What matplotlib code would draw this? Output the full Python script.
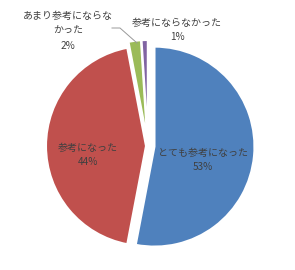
import matplotlib.pyplot as plt
import numpy as np

plt.rcParams['font.family'] = ['Noto Sans CJK JP', 'DejaVu Sans']

categories = ['とても参考になった', '参考になった', 'あまり参考にならなかった', '参考にならなかった']
values = [53, 44, 2, 1]
labels = ['とても参考になった\n53%', '参考になった\n44%', 'あまり参考にならな\nかった\n2%', '参考にならなかった\n1%']
colors = ['#4F81BD', '#C0504D', '#9BBB59', '#8064A2']

W, H = 295, 270
r = 100.0
cx, cy = 148, 124  # pie centre in pixels, measured from bottom-left


def px(x, y_top):
    # pixel position (from top-left) -> data coordinates
    return (x - cx) / r, (H - y_top - cy) / r


fig = plt.figure(figsize=(W / 100, H / 100), dpi=100)
ax = fig.add_axes([0, 0, 1, 1])

wedges, _ = ax.pie(values, colors=colors, startangle=90, counterclock=False,
                   explode=[0.065, 0.02, 0.06, 0.06],
                   wedgeprops=dict(edgecolor='white', linewidth=1.5))

txt = dict(fontsize=7.2, color='#404040', ha='center', va='center', linespacing=1.6)
ax.text(*px(203, 160), labels[0], **txt)
ax.text(*px(88, 155), labels[1], **txt)
ax.text(*px(68, 31), labels[2], **txt)
ax.text(*px(177, 30), labels[3], **txt)

pts = np.array([px(112, 28), px(120, 28), px(137, 43)])
ax.plot(pts[:, 0], pts[:, 1], color='#999999', lw=0.7)

ax.set_xlim(-cx / r, (W - cx) / r)
ax.set_ylim(-cy / r, (H - cy) / r)
ax.set_aspect('equal')
ax.axis('off')

fig.savefig('out.png', dpi=100)
